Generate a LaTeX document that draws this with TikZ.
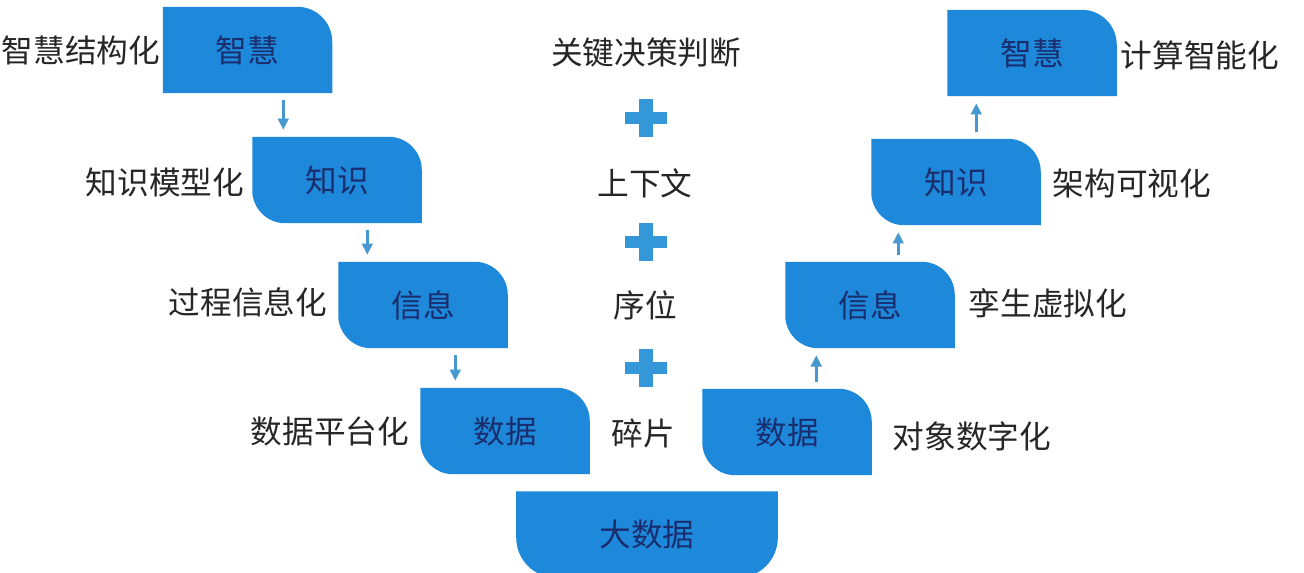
\documentclass[tikz,border=0pt]{standalone}
\usepackage{fontspec}
\setmainfont{Noto Sans CJK SC}
\usetikzlibrary{arrows.meta}
\usetikzlibrary{backgrounds}

\definecolor{boxblue}{RGB}{30,136,218}
\definecolor{boxtext}{RGB}{26,46,110}
\definecolor{flowblue}{RGB}{72,152,208}
\definecolor{plusblue}{RGB}{52,152,216}

% box with rounded top-right and bottom-left corner
\newcommand{\stairfill}[1]{%
  \fill[boxblue] (#1.north west) -- ([xshift=-0.33cm]#1.north east)
    arc[start angle=90,end angle=0,radius=0.33cm] -- (#1.south east)
    -- ([xshift=0.33cm]#1.south west)
    arc[start angle=270,end angle=180,radius=0.33cm] -- cycle;}
% box with rounded top-right corner only
\newcommand{\topfill}[1]{%
  \fill[boxblue] (#1.south west) -- (#1.north west) -- ([xshift=-0.35cm]#1.north east)
    arc[start angle=90,end angle=0,radius=0.35cm] -- (#1.south east) -- cycle;}

\tikzset{
  blk/.style={minimum width=1.68cm, minimum height=0.85cm, inner sep=0pt,
    text=boxtext, font=\fontsize{9}{10}\selectfont},
  lbl/.style={text=black!85, inner sep=0pt, font=\fontsize{9}{10}\selectfont},
  flow/.style={flowblue, line width=0.8pt, -{Triangle[width=3pt,length=3.2pt]},
    shorten <=0.07cm, shorten >=0.07cm},
}

\begin{document}
\begin{tikzpicture}[x=0.01cm,y=-0.01cm]
        \useasboundingbox (0,0) rectangle (1304,572);
        % left side, going down
        \node[blk] (zhL) at (247.5,50) {智慧};
        \node[blk] (zsL) at (337,180) {知识};
        \node[blk] (xxL) at (423,305) {信息};
        \node[blk] (sjL) at (505,431) {数据};
        % bottom
        \node[blk, minimum width=2.6cm] (dsj) at (647,534.5) {大数据};
        % right side, going up
        \node[blk] (sjR) at (787,432) {数据};
        \node[blk] (xxR) at (870,305) {信息};
        \node[blk] (zsR) at (956,182) {知识};
        \node[blk] (zhR) at (1032,53) {智慧};

        % labels
        \node[lbl] (l1) at (81,50) {智慧结构化};
        \node[lbl] (l2) at (165,182) {知识模型化};
        \node[lbl] (l3) at (248,302) {过程信息化};
        \node[lbl] (l4) at (330,431) {数据平台化};
        \node[lbl] (r1) at (972,436) {对象数字化};
        \node[lbl] (r2) at (1048,303) {孪生虚拟化};
        \node[lbl] (r3) at (1132,183) {架构可视化};
        \node[lbl] (r4) at (1200,55) {计算智能化};

        % middle column
        \node[lbl] (m1) at (646,52) {关键决策判断};
        \node[lbl] (m2) at (645,183) {上下文};
        \node[lbl] (m3) at (645,305) {序位};
        \node[lbl] (m4) at (643,433) {碎片};
        \foreach \y in {118,242,368} {
            \fill[plusblue] (625,\y) ++(0,-6) rectangle ++(42,12);
            \fill[plusblue] (646,\y) ++(-7,-19) rectangle ++(14,38);
        }

        % arrows
        \draw[flow] ([xshift=0.31cm]zsL.north west |- zhL.south) -- ([xshift=0.31cm]zsL.north west);
        \draw[flow] ([xshift=0.29cm]xxL.north west |- zsL.south) -- ([xshift=0.29cm]xxL.north west);
        \draw[flow] ([xshift=0.35cm]sjL.north west |- xxL.south) -- ([xshift=0.35cm]sjL.north west);
        \draw[flow] ([xshift=0.31cm]xxR.south west |- sjR.north) -- ([xshift=0.31cm]xxR.south west);
        \draw[flow] ([xshift=0.27cm]zsR.south west |- xxR.north) -- ([xshift=0.27cm]zsR.south west);
        \draw[flow] ([xshift=0.29cm]zhR.south west |- zsR.north) -- ([xshift=0.29cm]zhR.south west);

        \begin{scope}[on background layer]
            \fill[white] (0,0) rectangle (1304,572);
            \topfill{zhL}
            \topfill{zhR}
            \stairfill{zsL}
            \stairfill{xxL}
            \stairfill{sjL}
            \stairfill{sjR}
            \stairfill{xxR}
            \stairfill{zsR}
            \fill[boxblue] (dsj.north west) -- (dsj.north east) -- ([yshift=0.4cm]dsj.south east)
                arc[start angle=0,end angle=-90,radius=0.4cm] -- ([xshift=0.4cm]dsj.south west)
                arc[start angle=270,end angle=180,radius=0.4cm] -- cycle;
        \end{scope}
    \end{tikzpicture}
\end{document}
